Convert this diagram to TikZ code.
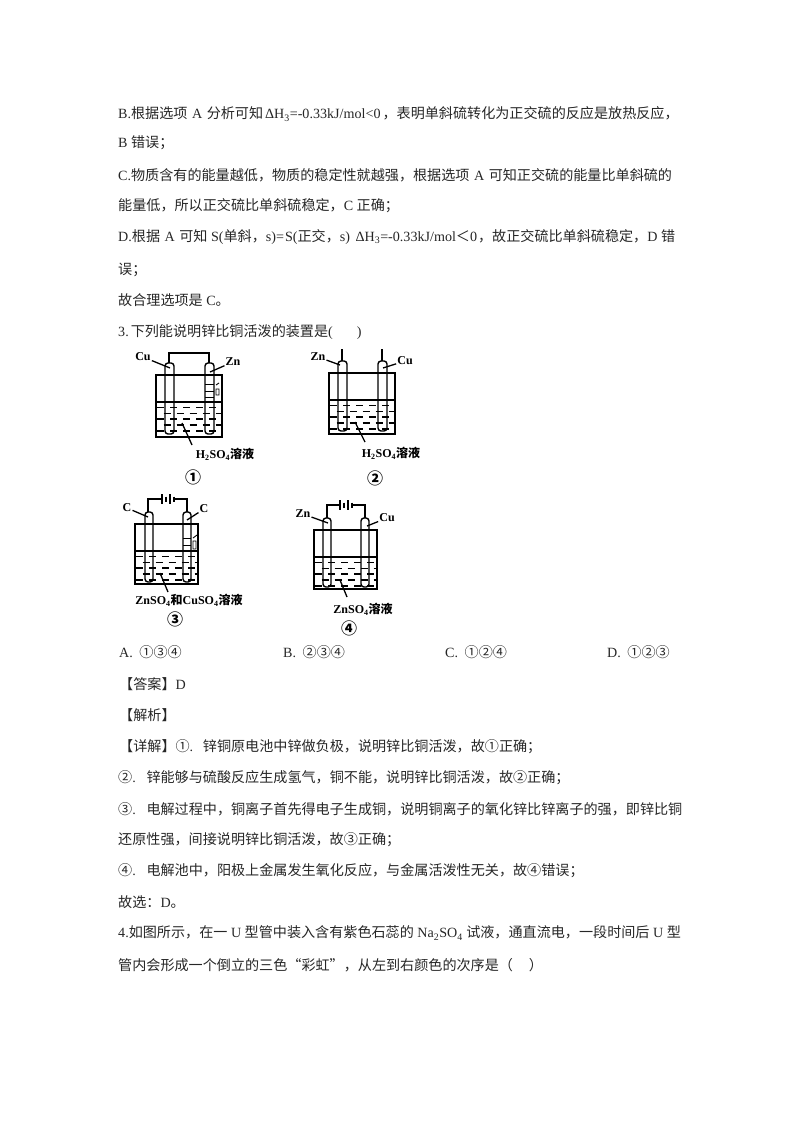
\documentclass[tikz,border=0pt]{standalone}
\usepackage{fontspec}
\setmainfont{Liberation Serif}
\newfontfamily\cjk{Noto Sans CJK SC}
\newcommand{\zh}[1]{{\cjk #1}}
\usetikzlibrary{positioning,calc}
\tikzset{
  line/.style={anchor=west, inner sep=0pt, text=black!85, font=\fontsize{14.1}{16}\selectfont},
  tag/.style={inner sep=1pt, font=\fontsize{12}{14}\selectfont\bfseries},
  num/.style={inner sep=0pt, font=\fontsize{16}{18}\selectfont\bfseries},
  glass/.style={line width=1.4pt, black},
  lead/.style={line width=1.3pt, black},
  wave/.style={line width=1.6pt, black}
}
\begin{document}
\begin{tikzpicture}[x=1pt,y=-1pt]
    \useasboundingbox (0,0) rectangle (794,1123);

    % Text above the figures
    \node[line] (l1) at (118,114) {B.\zh{根据选项}\hspace{1pt} A \hspace{1pt}\zh{分析可知}\hspace{2pt}ΔH\textsubscript{3}=-0.33kJ/mol<0\hspace{2pt}\zh{，表明单斜硫转化为正交硫的反应是放热反应，}};
    \node[line] (l2) at (118,143) {B \zh{错误；}};
    \node[line] (l3) at (118,175) {C.\zh{物质含有的能量越低，物质的稳定性就越强，根据选项}\hspace{1pt} A \hspace{1pt}\zh{可知正交硫的能量比单斜硫的}};
    \node[line] (l4) at (118,206) {\zh{能量低，所以正交硫比单斜硫稳定，}C \zh{正确；}};
    \node[line] (l5) at (118,237) {D.\zh{根据}\hspace{1pt} A \hspace{1pt}\zh{可知} S(\zh{单斜，}s)=\hspace{1pt}S(\zh{正交，}s) \hspace{2pt}ΔH\textsubscript{3}=-0.33kJ/mol\zh{＜}0\hspace{1pt}\zh{，故正交硫比单斜硫稳定，}D \zh{错}};
    \node[line] (l6) at (118,270) {\zh{误；}};
    \node[line] (l7) at (118,300) {\zh{故合理选项是} C\zh{。}};
    \node[line] (l8) at (118,332) {3.\hspace{2pt}\zh{下列能说明锌比铜活泼的装置是}(\hspace{24pt})};

    % Beakers with their tubes
    \foreach \xa/\xb/\yt/\yl/\yb/\ta/\tb/\tw/\tt/\te in {
        156/222/375/402/437/165/205/9/363/434,
        329/395/373/400/434/338/378/9/361/431,
        135/198/524/551/584/145/183/8/512/582,
        314/377/530/557/589/323/361/8/518/587}
    {
        % Solution
        \begin{scope}
            \clip (\xa,\yl) rectangle (\xb,\yb);
            \foreach \r in {0,...,4} {
                \foreach \c in {0,...,5} {
                    \pgfmathsetmacro{\dx}{\xa+1+13*\c+mod(\r,2)*6.5}
                    \pgfmathsetmacro{\dy}{\yl+5.5+5.8*\r}
                    \draw[wave] (\dx,\dy) -- ++(7,0);
                }
            }
        \end{scope}
        \draw[glass] (\xa,\yt) -- (\xb,\yt) -- (\xb,\yb) -- (\xa,\yb) -- cycle;
        \draw[line width=2.2pt] (\xa,\yb) -- (\xb,\yb);
        \draw[line width=1.4pt] (\xa,\yl) -- (\xb,\yl);
        % Tubes
        \foreach \p in {\ta,\tb} {
            \draw[glass, rounded corners=3pt] (\p,\tt) -- (\p+\tw,\tt) -- (\p+\tw,\te) -- (\p,\te) -- cycle;
        }
    }

    % Bubbles beside the zinc and carbon
    \draw[line width=0.9pt] (205,384) -- (214,384) (205,391) -- (214,391) (205,397) -- (214,397);
    \draw[line width=0.9pt] (216,385) -- (219,383) (216,389) rectangle (219,395);
    \draw[line width=0.9pt] (183,538) -- (191,538) (183,545) -- (191,545);
    \draw[line width=0.9pt] (193,538) -- (197,535) (193,541) rectangle (196,549);

    % Wires
    \coordinate (w1a) at (169,363);
    \coordinate (w1b) at (209,363);
    \draw[glass] (w1a) -- (169,353) -- (209,353) -- (w1b);
    \coordinate (w2a) at (342,361);
    \coordinate (w2b) at (382,361);
    \draw[glass] (w2a) -- (342,349);
    \draw[glass] (w2b) -- (382,349);
    \foreach \xa/\xb/\xc/\yw/\yt in {148/162/187/499/512, 327/340/365/505/518} {
        \draw[glass] (\xa,\yt) -- (\xa,\yw) -- (\xb,\yw);
        \draw[glass] (\xb+12,\yw) -- (\xc,\yw) -- (\xc,\yt);
        \draw[line width=1.1pt] (\xb,\yw-5) -- (\xb,\yw+5);
        \draw[line width=1.6pt] (\xb+4,\yw-2.5) -- (\xb+4,\yw+2.5);
        \draw[line width=1.1pt] (\xb+8,\yw-5) -- (\xb+8,\yw+5);
        \draw[line width=1.6pt] (\xb+12,\yw-2.5) -- (\xb+12,\yw+2.5);
    }

    % Labels
    \node[tag] (cu1) at (143,357) {Cu};
    \node[tag] (zn1) at (233,362) {Zn};
    \node[tag] (sol1) at (225,454) {H\textsubscript{2}SO\textsubscript{4}\zh{溶液}};
    \node[num] (n1) at (193,477) {\zh{①}};
    \node[tag] (zn2) at (318,357) {Zn};
    \node[tag] (cu2) at (405,361) {Cu};
    \node[tag] (sol2) at (391,453) {H\textsubscript{2}SO\textsubscript{4}\zh{溶液}};
    \node[num] (n2) at (375,478) {\zh{②}};
    \node[tag] (c3a) at (127,508) {C};
    \node[tag] (c3b) at (204,509) {C};
    \node[tag] (sol3) at (189,600) {ZnSO\textsubscript{4}\zh{和}CuSO\textsubscript{4}\zh{溶液}};
    \node[num] (n3) at (175,619) {\zh{③}};
    \node[tag] (zn4) at (303,514) {Zn};
    \node[tag] (cu4) at (387,518) {Cu};
    \node[tag] (sol4) at (363,609) {ZnSO\textsubscript{4}\zh{溶液}};
    \node[num] (n4) at (349,628) {\zh{④}};

    % Leaders
    \coordinate (p1a) at (170,368);
    \coordinate (p1b) at (210,372);
    \coordinate (p1c) at (182,423);
    \coordinate (p2a) at (340,365);
    \coordinate (p2b) at (383,368);
    \coordinate (p2c) at (355,422);
    \coordinate (p3a) at (148,517);
    \coordinate (p3b) at (187,520);
    \coordinate (p3c) at (160,573);
    \coordinate (p4a) at (328,523);
    \coordinate (p4b) at (367,526);
    \coordinate (p4c) at (340,580);
    \draw[lead] (cu1) -- (p1a);
    \draw[lead] (zn1) -- (p1b);
    \draw[lead] (p1c) -- (192,445);
    \draw[lead] (zn2) -- (p2a);
    \draw[lead] (cu2) -- (p2b);
    \draw[lead] (p2c) -- (365,442);
    \draw[lead] (c3a) -- (p3a);
    \draw[lead] (c3b) -- (p3b);
    \draw[lead] (p3c) -- (168,592);
    \draw[lead] (zn4) -- (p4a);
    \draw[lead] (cu4) -- (p4b);
    \draw[lead] (p4c) -- (347,597);

    % Options
    \node[line] (oa) at (119,652) {A. \hspace{3pt}\zh{①③④}};
    \node[line] (ob) at (283,652) {B. \hspace{3pt}\zh{②③④}};
    \node[line] (oc) at (445,652) {C. \hspace{3pt}\zh{①②④}};
    \node[line] (od) at (607,652) {D. \hspace{3pt}\zh{①②③}};

    % Text below the figures
    \node[line] (l9) at (119,684) {\zh{【答案】}D};
    \node[line] (l10) at (119,715) {\zh{【解析】}};
    \node[line] (l11) at (119,747) {\zh{【详解】①}. \hspace{5pt}\zh{锌铜原电池中锌做负极，说明锌比铜活泼，故①正确；}};
    \node[line] (l12) at (118,778) {\zh{②}. \hspace{6pt}\zh{锌能够与硫酸反应生成氢气，铜不能，说明锌比铜活泼，故②正确；}};
    \node[line] (l13) at (118,809) {\zh{③}. \hspace{6pt}\zh{电解过程中，铜离子首先得电子生成铜，说明铜离子的氧化锌比锌离子的强，即锌比铜}};
    \node[line] (l14) at (118,840) {\zh{还原性强，间接说明锌比铜活泼，故③正确；}};
    \node[line] (l15) at (118,871) {\zh{④}. \hspace{6pt}\zh{电解池中，阳极上金属发生氧化反应，与金属活泼性无关，故④错误；}};
    \node[line] (l16) at (118,902) {\zh{故选：}D\zh{。}};
    \node[line] (l17) at (118,933) {4.\zh{如图所示，在一} U \zh{型管中装入含有紫色石蕊的} Na\textsubscript{2}SO\textsubscript{4} \zh{试液，通直流电，一段时间后} U \zh{型}};
    \node[line] (l18) at (118,965) {\zh{管内会形成一个倒立的三色“彩虹”，从左到右颜色的次序是（}\hspace{16pt}\zh{）}};
\end{tikzpicture}
\end{document}
